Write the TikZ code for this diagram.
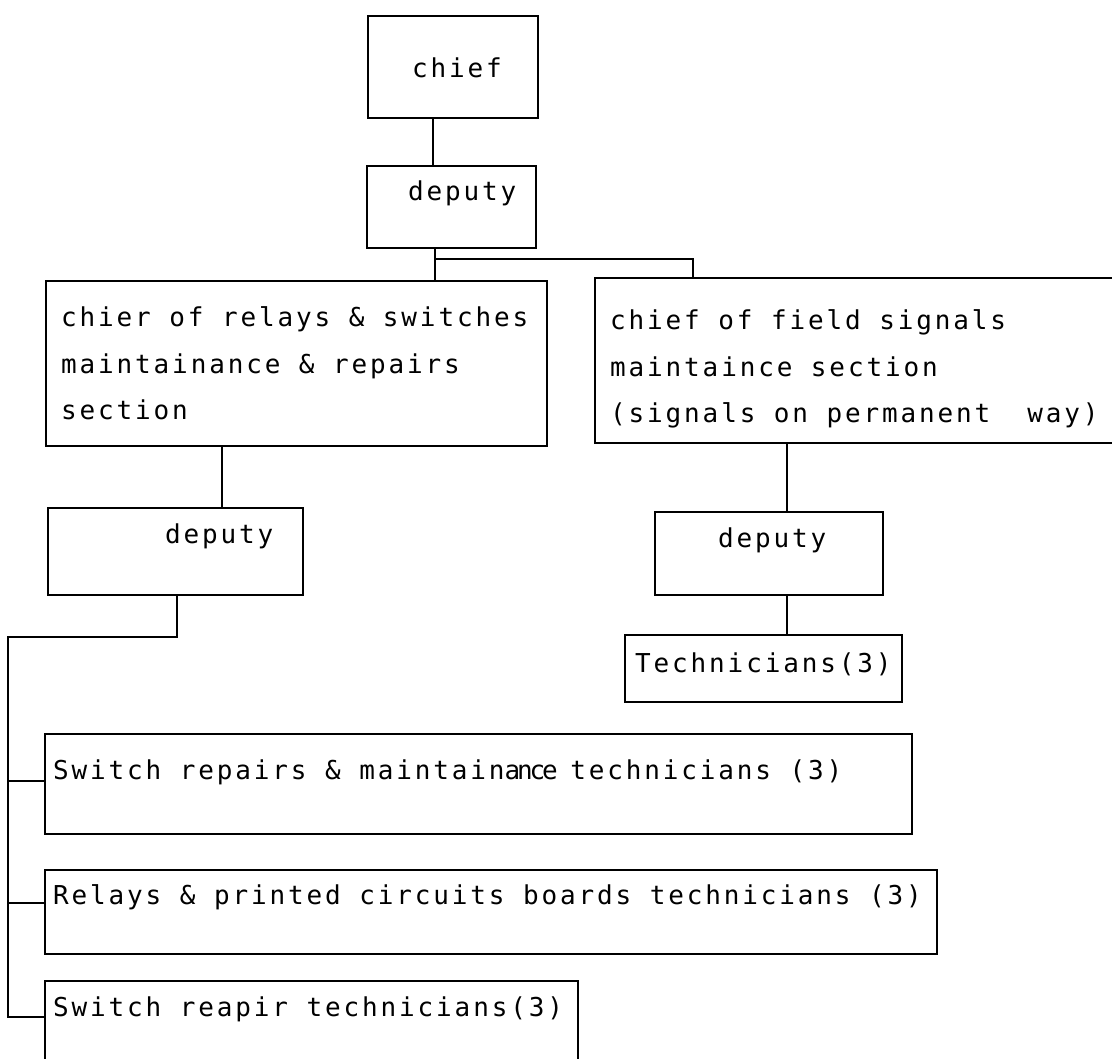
\documentclass[tikz,border=0pt]{standalone}
\usepackage{fontspec}
\newfontfamily\mono{DejaVu Sans Mono}[LetterSpace=11]
\newfontfamily\monotight{DejaVu Sans Mono}[LetterSpace=-12]
\newcommand\txtfont{\mono\fontsize{26}{46.5}\selectfont}
\tikzset{
  box/.style={draw, rectangle, line width=1.8pt, inner sep=0pt},
  lbl/.style={inner sep=0pt, anchor=base west, font=\txtfont, align=left},
  wire/.style={line width=1.8pt}
}
\begin{document}
\begin{tikzpicture}[x=1pt,y=-1pt]
\useasboundingbox (0,0) rectangle (1112,1059);
\fill[white] (0,0) rectangle (1112,1059);
\clip (0,0) rectangle (1112,1059);

% boxes
\node[box, minimum width=170pt, minimum height=102pt] (chief) at (453,67) {};
\node[box, minimum width=169pt, minimum height=82pt] (dep0) at (451.5,207) {};
\node[box, minimum width=501pt, minimum height=165pt] (relay) at (296.5,363.5) {};
\node[box, minimum width=530pt, minimum height=165pt] (field) at (860,360.5) {};
\node[box, minimum width=255pt, minimum height=87pt] (depL) at (175.5,551.5) {};
\node[box, minimum width=228pt, minimum height=83pt] (depR) at (769,553.5) {};
\node[box, minimum width=277pt, minimum height=67pt] (tech) at (763.5,668.5) {};
\node[box, minimum width=867pt, minimum height=100pt] (sw1) at (478.5,784) {};
\node[box, minimum width=892pt, minimum height=84pt] (sw2) at (491,912) {};
\node[box, minimum width=533pt, minimum height=99pt] (sw3) at (311.5,1030.5) {};

% texts (multi-line nodes: base = last line's baseline)
\node[lbl] (chiefT) at (412,78) {chief};
\node[lbl] (dep0T) at (408,201) {deputy};
\node[lbl] (relayT) at (61,420) {chier of relays \& switches\\maintainance \& repairs\\section};
\node[lbl] (fieldT) at (610,423) {chief of field signals\\maintaince section\\(signals on permanent\ \ way)};
\node[lbl] (depLT) at (165,543) {deputy};
\node[lbl] (depRT) at (718,547) {deputy};
\node[lbl] (techT) at (635,672) {Technicians(3)};
\node[lbl] (sw1T) at (53,779) {Switch repairs \& maintain{\monotight\fontsize{26}{46.5}\selectfont ance }technicians (3)};
\node[lbl] (sw2T) at (53,904) {Relays \& printed circuits boards technicians (3)};
\node[lbl] (sw3T) at (53,1016) {Switch reapir technicians(3)};

% connectors
\coordinate (xa) at (433,0);
\draw[wire] (xa |- chief.south) -- (xa |- dep0.north);
\coordinate (br) at (435,259);
\draw[wire] (br |- dep0.south) -- (br |- relay.north);
\coordinate (xb) at (693,0);
\draw[wire] (br) -| (xb |- field.north);
\coordinate (xc) at (222,0);
\draw[wire] (xc |- relay.south) -- (xc |- depL.north);
\coordinate (xd) at (787,0);
\draw[wire] (xd |- field.south) -- (xd |- depR.north);
\draw[wire] (xd |- depR.south) -- (xd |- tech.north);
\coordinate (t0) at (177,637);
\coordinate (b0) at (8,637);
\coordinate (b1) at (8,781);
\coordinate (b2) at (8,903);
\coordinate (b3) at (8,1017);
\draw[wire] (t0 |- depL.south) -- (t0) -- (b0) -- (b3) -- (b3 -| sw3.west);
\draw[wire] (b1) -- (b1 -| sw1.west);
\draw[wire] (b2) -- (b2 -| sw2.west);
\end{tikzpicture}
\end{document}
